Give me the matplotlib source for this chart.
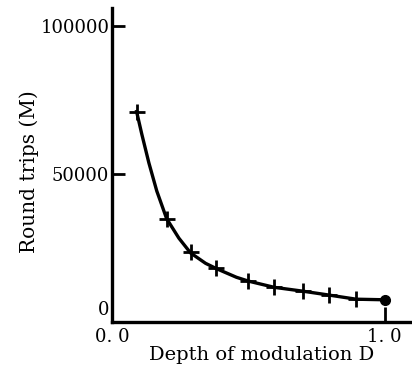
import matplotlib
matplotlib.use("Agg")
from matplotlib import pyplot as plt
from matplotlib import transforms

# measured points (+ markers)
depth = [0.09, 0.20, 0.29, 0.38, 0.50, 0.595, 0.70, 0.795, 0.895]
trips = [71000, 34900, 23500, 18100, 13800, 11700, 10400, 9100, 7700]
last_depth = 1.0
last_trips = 7500

# drawn curve
curve_x = [0.09, 0.109, 0.135, 0.164, 0.20, 0.245, 0.288, 0.343, 0.383, 0.456,
           0.50, 0.595, 0.70, 0.795, 0.895, 1.0]
curve_y = [71000, 63400, 53700, 44200, 34900, 28300, 23300, 19800, 18000, 15100,
           13800, 11700, 10400, 9100, 7700, 7500]

plt.rcParams['font.family'] = ['DejaVu Serif']

fig = plt.figure(figsize=(4.12, 3.74), dpi=100)
ax = fig.add_axes([0.272, 0.139, 0.728, 0.84])

ax.plot(curve_x, curve_y, color='k', linewidth=2.4, solid_joinstyle='round')
ax.plot(depth, trips, 'k+', markersize=11, markeredgewidth=2)
ax.plot([last_depth], [last_trips], 'ko', markersize=7)

ax.set_xlim(0, 1.10)
ax.set_ylim(0, 106000)
ax.spines['top'].set_visible(False)
ax.spines['right'].set_visible(False)
ax.spines['left'].set_linewidth(2.4)
ax.spines['bottom'].set_linewidth(2.4)

ax.set_xticks([0.0, 1.0])
ax.set_xticklabels(['0. 0', '1. 0'])
ax.set_yticks([0, 50000, 100000])
ax.set_yticklabels(['0', '50000', '100000'])
ax.tick_params(axis='y', direction='in', length=9, width=2, labelsize=13, pad=2)
ax.tick_params(axis='x', direction='in', length=11, width=2, labelsize=13, pad=4)

# raise the "0" label off the corner
zero_lbl = ax.get_yticklabels()[0]
zero_lbl.set_transform(zero_lbl.get_transform() +
                       transforms.ScaledTranslation(0, 14 / 100, fig.dpi_scale_trans))

ax.set_xlabel('Depth of modulation D', fontsize=14, labelpad=0)
ax.set_ylabel('Round trips (M)', fontsize=14.5)
ax.yaxis.set_label_coords(-0.245, 0.48)

fig.savefig('out.png', dpi=100)
